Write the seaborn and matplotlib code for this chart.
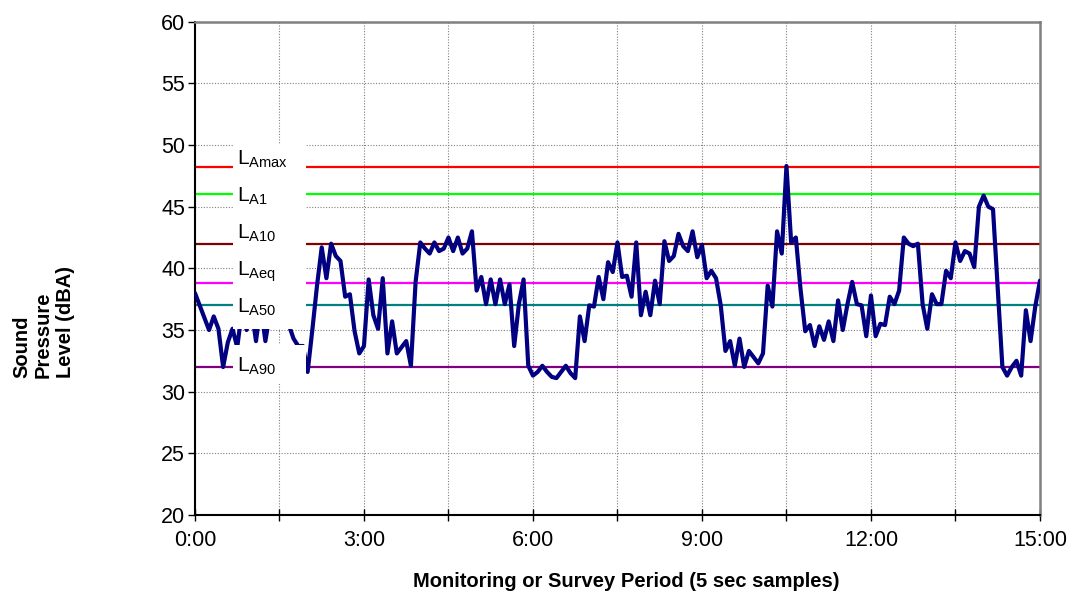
import numpy as np
import pandas as pd
import matplotlib
matplotlib.use("Agg")
import matplotlib.pyplot as plt
from matplotlib.patches import Rectangle
from matplotlib.ticker import MultipleLocator, FuncFormatter
import seaborn as sns

# Mesures toutes les 5 secondes sur 15 minutes (dBA)
sample_sec = 5
spl = [
    38.0, 37.0, 36.0, 35.0, 36.1, 35.1, 32.0, 34.0, 35.1, 33.6,
    36.5, 35.0, 36.8, 34.1, 37.0, 34.1, 36.5, 35.5, 36.8, 36.2,
    35.4, 34.3, 33.7, 33.7, 31.6, 35.0, 38.6, 41.7, 39.2, 42.0,
    41.0, 40.6, 37.7, 37.9, 34.9, 33.1, 33.7, 39.1, 36.2, 35.1,
    39.2, 33.1, 35.7, 33.1, 33.6, 34.1, 32.1, 38.9, 42.1, 41.6,
    41.2, 42.1, 41.4, 41.6, 42.5, 41.4, 42.5, 41.2, 41.6, 43.0,
    38.2, 39.3, 37.1, 39.1, 37.1, 39.1, 37.1, 38.7, 33.7, 37.1,
    39.1, 32.1, 31.3, 31.6, 32.1, 31.6, 31.2, 31.1, 31.6, 32.1,
    31.5, 31.1, 36.1, 34.1, 37.0, 36.9, 39.3, 37.5, 40.5, 39.7,
    42.1, 39.3, 39.4, 37.7, 42.1, 36.2, 38.1, 36.2, 39.0, 37.1,
    42.2, 40.6, 41.0, 42.8, 41.8, 41.4, 43.0, 40.9, 41.9, 39.2,
    39.8, 39.2, 37.0, 33.3, 34.1, 32.1, 34.3, 32.0, 33.3, 32.8,
    32.3, 33.1, 38.6, 36.9, 43.0, 41.2, 48.3, 42.1, 42.5, 38.3,
    34.9, 35.4, 33.7, 35.3, 34.2, 35.7, 34.1, 37.4, 35.0, 37.1,
    38.9, 37.1, 37.0, 34.5, 37.8, 34.5, 35.5, 35.4, 37.7, 37.1,
    38.2, 42.5, 42.0, 41.8, 42.0, 37.1, 35.1, 37.9, 37.1, 37.1,
    39.8, 39.2, 42.1, 40.6, 41.4, 41.2, 40.1, 45.0, 45.9, 45.0,
    44.8, 38.4, 32.0, 31.3, 32.0, 32.5, 31.3, 36.6, 34.1, 36.9,
    39.0,
]

# Indices statistiques
stat_names = ["Amax", "A1", "A10", "Aeq", "A50", "A90"]
stat_levels = [48.2, 46.0, 42.0, 38.8, 37.0, 32.0]
stat_colors = ["#ff0000", "#00ff00", "#800000", "#ff00ff", "#008080", "#800080"]
label_y = [48.4, 45.4, 42.4, 39.4, 36.4, 31.6]

df = pd.DataFrame({"minutes": np.arange(len(spl)) * sample_sec / 60.0, "spl": spl})

sns.set_theme(style="white")
plt.rcParams["font.family"] = ["Liberation Sans", "DejaVu Sans"]
plt.rcParams["mathtext.default"] = "regular"
plt.rcParams["text.color"] = "black"

fig = plt.figure(figsize=(10.73, 5.95), dpi=100)
ax = fig.add_axes([0.1817, 0.1345, 0.7875, 0.829])

for lvl, col in zip(stat_levels, stat_colors):
    ax.axhline(lvl, color=col, lw=1.6, zorder=2)

sns.lineplot(data=df, x="minutes", y="spl", color="#000080", lw=3.0, ax=ax, zorder=3)

# cadres blancs des etiquettes
ax.add_patch(Rectangle((0.67, 35.1), 1.30, 15.0, facecolor="white", edgecolor="none", zorder=4))
ax.add_patch(Rectangle((0.67, 30.6), 1.30, 3.2, facecolor="white", edgecolor="none", zorder=4))
for name, y in zip(stat_names, label_y):
    ax.text(0.74, y, r"L$_{%s}$" % name, fontsize=15, color="black",
            va="baseline", ha="left", zorder=5)

ax.set_xlim(0, 15)
ax.set_ylim(20, 60)
ax.xaxis.set_major_locator(MultipleLocator(3))
ax.xaxis.set_minor_locator(MultipleLocator(1.5))
ax.xaxis.set_major_formatter(FuncFormatter(lambda m, p: "%d:%02d" % (int(m), round((m % 1) * 60))))
ax.yaxis.set_major_locator(MultipleLocator(5))

ax.grid(True, which="both", axis="x", color="#808080", ls=(0, (1, 1.5)), lw=0.8)
ax.grid(True, which="major", axis="y", color="#808080", ls=(0, (1, 1.5)), lw=0.8)
ax.set_axisbelow(True)

ax.tick_params(axis="y", which="major", direction="out", length=5, width=1, left=True,
               labelsize=15.5, pad=2, colors="black")
ax.tick_params(axis="x", which="both", direction="inout", length=9, width=1, bottom=True,
               labelsize=15.5, pad=6, colors="black")

for s in ["left", "bottom"]:
    ax.spines[s].set_color("black")
    ax.spines[s].set_linewidth(1.5)
for s in ["top", "right"]:
    ax.spines[s].set_color("#808080")
    ax.spines[s].set_linewidth(1.8)

ax.set_xlabel("")
ax.set_ylabel("")
fig.text(0.584, 0.022, "Monitoring or Survey Period (5 sec samples)", fontsize=14.5,
         fontweight="bold", color="black", ha="center", va="center")
fig.text(0.0405, 0.365, "Sound\nPressure\nLevel (dBA)", fontsize=14.5, fontweight="bold",
         color="black", rotation=90, ha="center", va="bottom", multialignment="left",
         linespacing=1.2)

fig.savefig("out.png", dpi=100)
